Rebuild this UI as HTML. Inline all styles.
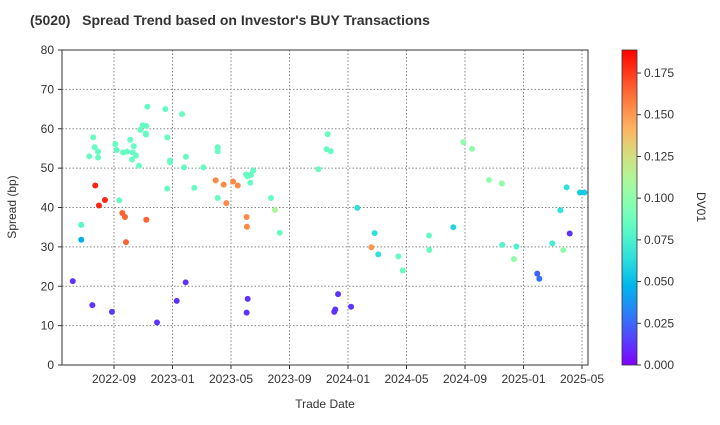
<!DOCTYPE html>
<html><head><meta charset="utf-8"><style>
body{margin:0;background:#fff;font-family:"Liberation Sans",sans-serif}
svg text{font-family:"Liberation Sans",sans-serif}
</style></head><body>
<svg width="720" height="420" viewBox="0 0 720 420">
<defs><linearGradient id="cb" x1="0" y1="1" x2="0" y2="0"></linearGradient></defs>
<text x="30" y="25" font-size="14" font-weight="bold" fill="#333" xml:space="preserve">(5020)   Spread Trend based on Investor's BUY Transactions</text>
<g id="grid"></g><g id="pts"></g><g id="axes"></g>
<rect x="62" y="50" width="526" height="315" fill="none" stroke="#333" stroke-width="1"/>
<text x="16" y="207" font-size="12" fill="#333" text-anchor="middle" transform="rotate(-90 16 207)">Spread (bp)</text>
<text x="325" y="408" font-size="12" fill="#333" text-anchor="middle">Trade Date</text>
<rect x="622" y="50" width="15" height="315" fill="url(#cb)" stroke="#333" stroke-width="0.8"/>
<g id="cbt"></g>
<text x="697" y="207" font-size="12" fill="#333" text-anchor="middle" transform="rotate(90 697 207)">DV01</text>
</svg>
<script>
// months since 2022-09-01
const months=[-2.82,-2.24,-2.24,-1.48,-1.42,-1.32,-1.28,-1.09,-1.09,-1.69,-1.03,-0.62,-0.14,0.09,0.18,0.36,0.57,0.62,0.75,0.82,0.89,1.11,1.23,1.28,1.35,1.50,1.71,1.80,1.96,2.17,2.19,2.21,2.21,2.28,2.94,3.51,3.64,3.64,3.83,3.83,4.29,4.65,4.79,4.90,4.92,5.49,6.11,6.95,7.09,7.09,7.09,7.50,7.68,8.14,8.46,9.03,9.07,9.07,9.09,9.14,9.14,9.32,9.37,9.52,10.74,11.01,11.33,13.97,14.54,14.61,14.82,15.06,15.13,15.32,16.21,16.64,17.59,17.82,18.07,19.44,19.74,21.54,21.56,23.20,23.88,24.48,25.64,26.53,26.55,27.35,27.51,28.94,29.08,29.97,30.52,30.72,30.95,31.16,31.86,32.16];
const spread=[21.3,31.8,35.6,15.2,57.8,55.3,45.6,54.2,52.7,53.0,40.5,41.9,13.5,56.1,54.6,41.8,38.6,54.0,37.6,31.2,54.2,57.2,52.2,54.0,55.6,53.2,50.6,59.7,60.9,58.8,58.5,60.7,36.9,65.6,10.8,65.0,57.8,44.8,51.9,51.5,16.3,63.7,50.2,21.0,52.9,45.0,50.2,46.9,55.3,54.3,42.4,45.8,41.1,46.6,45.6,48.4,37.6,13.3,35.1,47.9,16.8,46.3,48.3,49.4,42.4,39.4,33.6,49.7,54.8,58.6,54.3,13.5,14.1,18.0,14.8,39.9,29.9,33.5,28.1,27.6,24.0,32.9,29.2,35.0,56.6,54.9,47.0,46.1,30.5,26.9,30.1,23.2,21.9,30.9,39.3,29.2,45.1,33.4,43.8,43.8];
const dv01=[0.012,0.045,0.08,0.012,0.085,0.085,0.18,0.085,0.085,0.085,0.18,0.18,0.012,0.085,0.085,0.085,0.165,0.085,0.165,0.165,0.085,0.085,0.085,0.085,0.085,0.085,0.085,0.085,0.085,0.085,0.085,0.085,0.165,0.085,0.012,0.085,0.085,0.085,0.085,0.085,0.012,0.085,0.085,0.012,0.085,0.085,0.085,0.155,0.085,0.085,0.085,0.155,0.155,0.155,0.155,0.085,0.155,0.012,0.155,0.085,0.012,0.085,0.085,0.085,0.085,0.11,0.085,0.085,0.085,0.085,0.085,0.012,0.012,0.012,0.012,0.065,0.15,0.065,0.065,0.085,0.085,0.085,0.085,0.06,0.1,0.1,0.1,0.1,0.078,0.1,0.075,0.023,0.028,0.072,0.065,0.1,0.065,0.012,0.055,0.055];
const xTickVals=[0,4,8,12,16,20,24,28,32];
const xTickLabels=["2022-09","2023-01","2023-05","2023-09","2024-01","2024-05","2024-09","2025-01","2025-05"];
const yTicks=[0,10,20,30,40,50,60,70,80];
const cbTicks=[0,0.025,0.05,0.075,0.1,0.125,0.15,0.175];
const dvMax=0.1888;
const NS="http://www.w3.org/2000/svg";
const X=m=>114+m*14.625, Y=v=>365-v*3.9375, CB=d=>365-d/dvMax*315;
function rainbow(t){t=Math.max(0,Math.min(1,t));const r=Math.min(1,Math.abs(2*t-0.5)),g=Math.sin(t*Math.PI),b=Math.cos(t*Math.PI/2);return `rgb(${Math.round(r*255)},${Math.round(g*255)},${Math.round(b*255)})`;}
function mk(tag,at,parent){const e=document.createElementNS(NS,tag);for(const k in at)e.setAttribute(k,at[k]);parent.appendChild(e);return e;}
const grid=document.getElementById('grid'),axes=document.getElementById('axes'),pts=document.getElementById('pts'),cbt=document.getElementById('cbt');
xTickVals.forEach((m,i)=>{const x=X(m);
 const l=mk('line',{x1:x,x2:x,y1:50,y2:365,stroke:'#888','stroke-dasharray':'1.5,2','stroke-width':1},grid);
 
 
 const tk=mk('line',{x1:x,x2:x,y1:365,y2:369,stroke:'#333'},axes);
 
 
 const t=mk('text',{x:x,y:383,'font-size':12,fill:'#333','text-anchor':'middle'},axes);t.textContent=xTickLabels[i];
 
 });
yTicks.forEach(v=>{const y=Y(v);
 const l=mk('line',{x1:62,x2:588,y1:y,y2:y,stroke:'#888','stroke-dasharray':'1.5,2','stroke-width':1},grid);
 
 
 const tk=mk('line',{x1:58,x2:62,y1:y,y2:y,stroke:'#333'},axes);
 
 
 const t=mk('text',{x:54,y:y+4,'font-size':12,fill:'#333','text-anchor':'end'},axes);t.textContent=v;
 
 });
months.forEach((m,i)=>{const c=mk('circle',{cx:X(m),cy:Y(spread[i]),r:3,fill:rainbow(dv01[i]/dvMax)},pts);
 
 });
const g=document.getElementById('cb');
for(let i=0;i<=20;i++){mk('stop',{offset:(i/20),'stop-color':rainbow(i/20)},g);}
cbTicks.forEach(d=>{const y=CB(d);
 const tk=mk('line',{x1:637,x2:641,y1:y,y2:y,stroke:'#333'},cbt);
 
 
 const t=mk('text',{x:644,y:y+4,'font-size':12,fill:'#333'},cbt);t.textContent=d.toFixed(3);
 
 });
</script>
</body></html>
